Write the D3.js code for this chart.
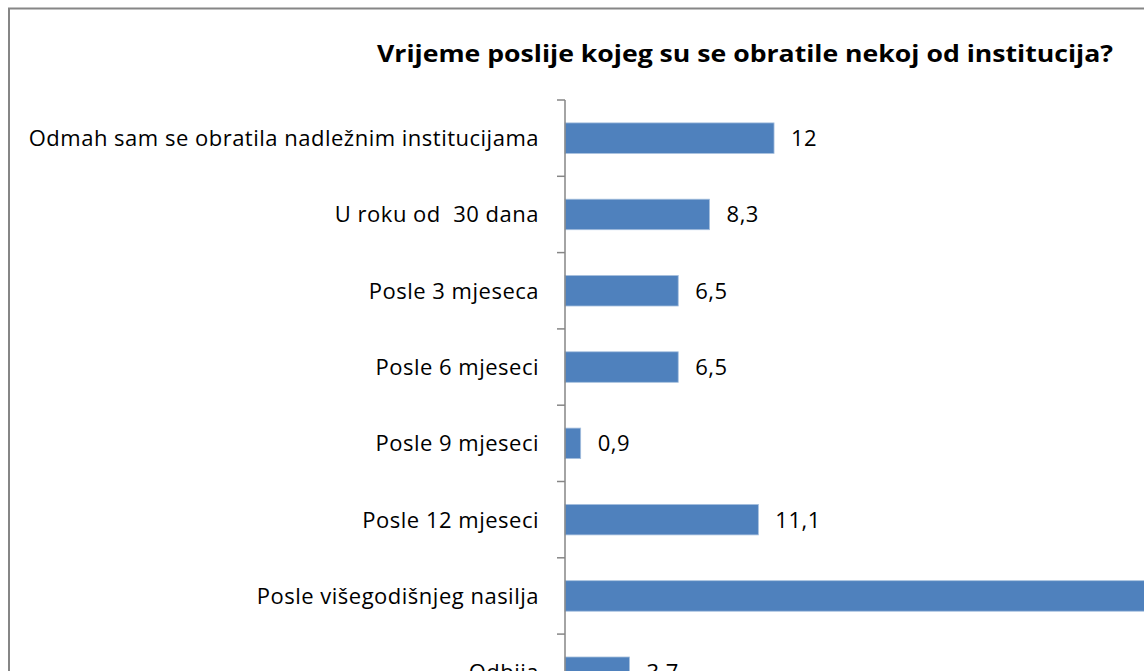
<!DOCTYPE html>
<html>
<head>
<meta charset="utf-8">
<script src="https://cdn.jsdelivr.net/npm/d3@7"></script>
<style>
  html, body { margin: 0; padding: 0; overflow: hidden; background: #fff; }
  text { font-family: "Open Sans", Lato, sans-serif; fill: #000; white-space: pre; }
</style>
</head>
<body>
<div id="graph"></div>
<script>
const title = "Vrijeme poslije kojeg su se obratile nekoj od institucija?";
const categories = [
  "Odmah sam se obratila nadležnim institucijama",
  "U roku od  30 dana",
  "Posle 3 mjeseca",
  "Posle 6 mjeseci",
  "Posle 9 mjeseci",
  "Posle 12 mjeseci",
  "Posle višegodišnjeg nasilja",
  "Odbija"
];
const values = [12, 8.3, 6.5, 6.5, 0.9, 11.1, 42.6, 3.7];

const width = 1144, height = 671;
const config = { axisX: 565, top: 100, step: 76.3, pxPerUnit: 17.42 };

const locale = d3.formatLocale({ decimal: ",", thousands: ".", grouping: [3], currency: ["", ""] });
const fmt = v => locale.format("~g")(v);

const svg = d3.select("#graph")
  .append("svg")
  .attr("width", width)
  .attr("height", height);

// chart frame (cut off at right and bottom)
svg.append("rect")
  .attr("x", 9).attr("y", 8.5)
  .attr("width", 1300).attr("height", 900)
  .attr("fill", "#fff")
  .attr("stroke", "#868686")
  .attr("stroke-width", 2);

const x = d3.scaleLinear()
  .domain([0, 40])
  .range([config.axisX, config.axisX + 40 * config.pxPerUnit]);

const y = d3.scaleBand()
  .domain(categories)
  .range([config.top, config.top + categories.length * config.step])
  .paddingInner(0.6)
  .paddingOuter(0.3);

// title
svg.append("text")
  .attr("x", 745)
  .attr("y", 62)
  .attr("text-anchor", "middle")
  .attr("textLength", 736)
  .attr("lengthAdjust", "spacingAndGlyphs")
  .style("font-size", "24px")
  .style("font-weight", "bold")
  .text(title);

// bars
svg.selectAll(".bar")
  .data(values)
  .enter()
  .append("rect")
  .attr("class", "bar")
  .attr("x", x(0))
  .attr("y", (d, i) => y(categories[i]))
  .attr("width", d => x(d) - x(0))
  .attr("height", y.bandwidth())
  .attr("fill", "#4f81bd")
  .attr("stroke", "#a7c0de")
  .attr("stroke-width", 0.8);

// value labels
svg.selectAll(".val")
  .data(values)
  .enter()
  .append("text")
  .attr("class", "val")
  .attr("x", d => x(d) + 17)
  .attr("y", (d, i) => y(categories[i]) + y.bandwidth() / 2)
  .attr("dy", "0.36em")
  .style("font-size", "22px")
  .style("letter-spacing", "0.5px")
  .text(d => fmt(d));

// category labels
svg.selectAll(".cat")
  .data(categories)
  .enter()
  .append("text")
  .attr("class", "cat")
  .attr("x", 539)
  .attr("y", d => y(d) + y.bandwidth() / 2)
  .attr("dy", "0.36em")
  .attr("text-anchor", "end")
  .style("font-size", "22px")
  .style("letter-spacing", "0.5px")
  .text(d => d);

// axis line + ticks between categories
const axis = svg.append("g").attr("class", "y-axis");
axis.append("line")
  .attr("x1", config.axisX).attr("x2", config.axisX)
  .attr("y1", config.top).attr("y2", config.top + categories.length * config.step)
  .attr("stroke", "#868686")
  .attr("stroke-width", 1.5);
axis.selectAll(".tick")
  .data(d3.range(categories.length + 1))
  .enter()
  .append("line")
  .attr("class", "tick")
  .attr("x1", config.axisX - 8).attr("x2", config.axisX)
  .attr("y1", i => config.top + i * y.step())
  .attr("y2", i => config.top + i * y.step())
  .attr("stroke", "#868686")
  .attr("stroke-width", 1.5);
</script>
</body>
</html>
